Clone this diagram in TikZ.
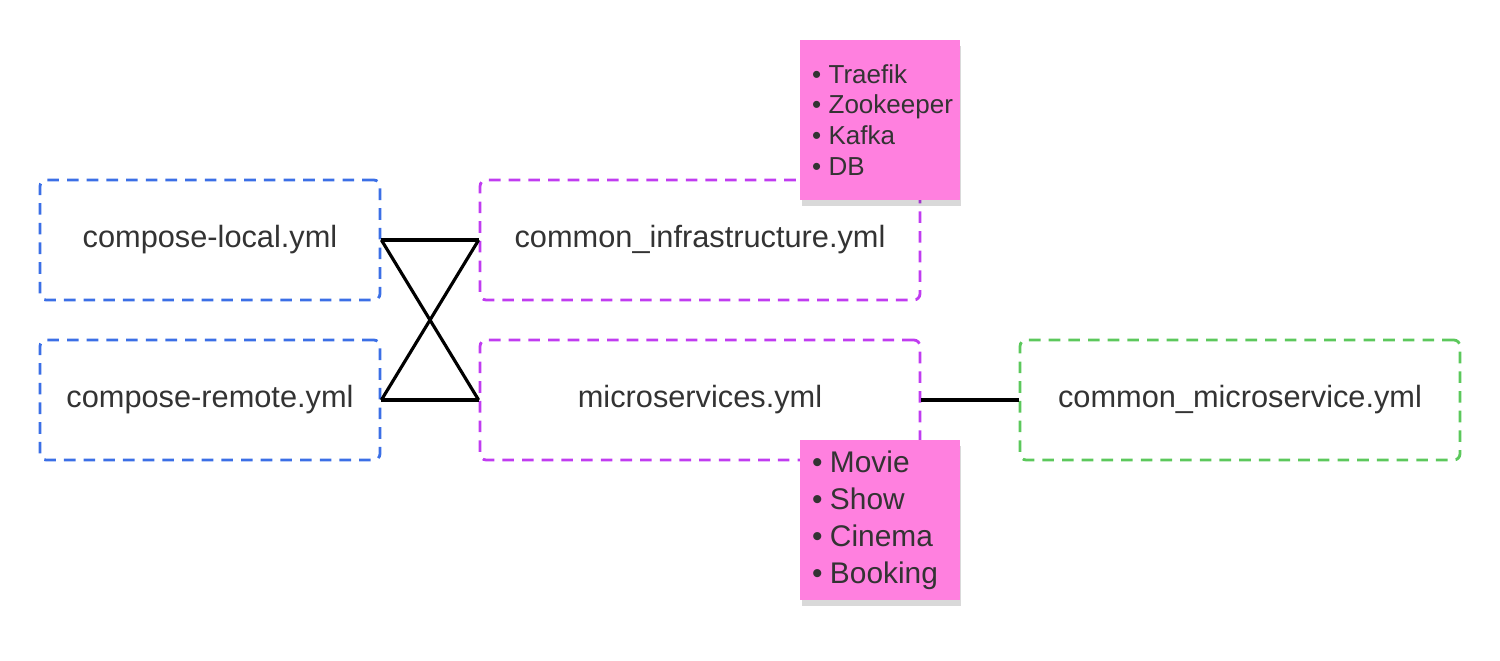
\documentclass[tikz,border=0pt]{standalone}
\usepackage{fontspec}
\setsansfont{Liberation Sans}
\usetikzlibrary{shadows}
\definecolor{ink}{HTML}{333333}
\definecolor{localblue}{HTML}{3B6FE6}
\definecolor{infrapurple}{HTML}{C03CF0}
\definecolor{svcgreen}{HTML}{5CC85C}
\definecolor{sticky}{HTML}{FF80DF}
\newcommand{\bul}[1]{\mbox{\textbullet\hspace{0.15cm}#1}}

\begin{document}
\begin{tikzpicture}[x=0.02cm, y=-0.02cm, font=\sffamily]
 \tikzstyle{filebox}=[rectangle,rounded corners=3.5pt,dash pattern=on 6.6pt off 4.6pt,line width=1.6pt,minimum height=2.4cm,align=center,font=\sffamily\fontsize{17.5}{21}\selectfont,text=ink]
 \tikzstyle{note}=[rectangle,fill=sticky,minimum width=3.2cm,minimum height=3.2cm,text width=2.72cm,inner xsep=0.24cm,inner ysep=0pt,align=left,text=ink,drop shadow={shadow xshift=0.03cm,shadow yshift=-0.12cm,opacity=0.15,fill=black}]
 \tikzstyle{link}=[line width=1.8pt,black]
 \useasboundingbox (0,0) rectangle (1500,660);
 \node[filebox,draw=localblue,minimum width=6.8cm] (local) at (210,240) {compose-local.yml};
 \node[filebox,draw=localblue,minimum width=6.8cm] (remote) at (210,400) {compose-remote.yml};
 \node[filebox,draw=infrapurple,minimum width=8.8cm] (infra) at (700,240) {common\_infrastructure.yml};
 \node[filebox,draw=infrapurple,minimum width=8.8cm] (micro) at (700,400) {microservices.yml};
 \node[filebox,draw=svcgreen,minimum width=8.8cm] (common) at (1240,400) {common\_microservice.yml};
 \draw[link] (local.east) -- (infra.west);
 \draw[link] (local.east) -- (micro.west);
 \draw[link] (remote.east) -- (infra.west);
 \draw[link] (remote.east) -- (micro.west);
 \draw[link] (micro.east) -- (common.west);
 % sticky notes on top of the boxes
 \node[note,font=\sffamily\fontsize{14.8}{17.6}\selectfont] (infranote) at (880,120) {\bul{Traefik}\\\bul{Zookeeper}\\\bul{Kafka}\\\bul{DB}};
 \node[note,font=\sffamily\fontsize{17}{21}\selectfont] (svcnote) at (880,520) {\bul{Movie}\\\bul{Show}\\\bul{Cinema}\\\bul{Booking}};
\end{tikzpicture}
\end{document}
